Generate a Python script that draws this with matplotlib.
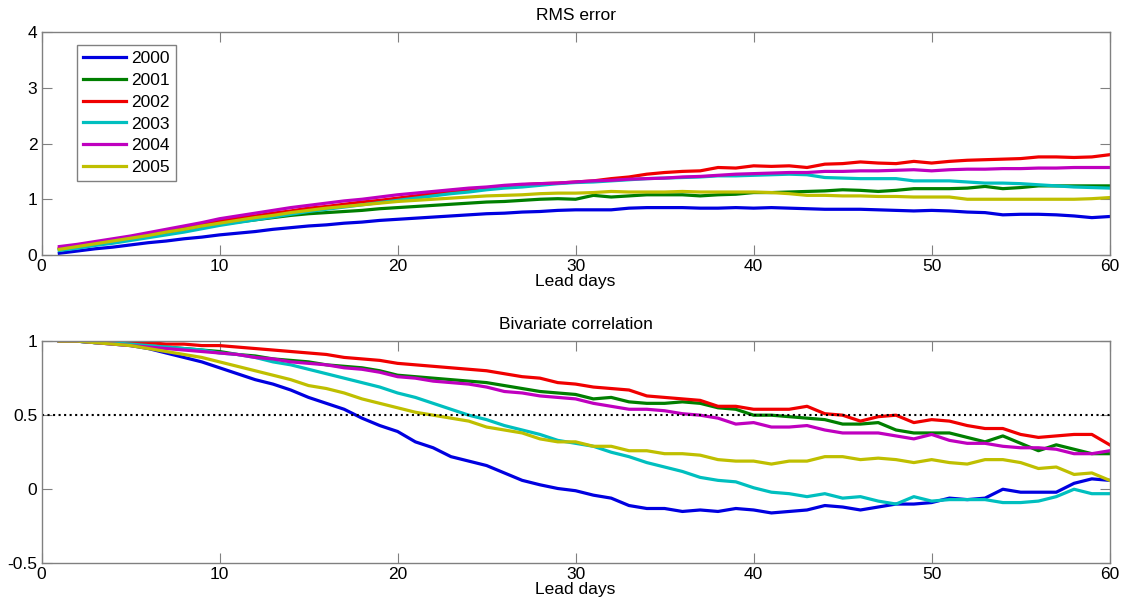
import matplotlib.pyplot as plt
import numpy as np

plt.rcParams['font.family'] = ['Liberation Sans', 'DejaVu Sans']
plt.rcParams['font.size'] = 12.5
plt.rcParams['axes.unicode_minus'] = False

days = np.arange(1, 61)
years = ['2000', '2001', '2002', '2003', '2004', '2005']
colors = ['#0000e0', '#007f00', '#f00000', '#00bfbf', '#bf00bf', '#bfbf00']

# RMS error, one list per year (lead days 1..60)
rms_2000 = [0.03, 0.07, 0.11, 0.14, 0.18, 0.22, 0.25, 0.29, 0.32, 0.36,
            0.39, 0.42, 0.46, 0.49, 0.52, 0.54, 0.57, 0.59, 0.62, 0.64,
            0.66, 0.68, 0.70, 0.72, 0.74, 0.75, 0.77, 0.78, 0.80, 0.81,
            0.81, 0.81, 0.84, 0.85, 0.85, 0.85, 0.84, 0.84, 0.85, 0.84,
            0.85, 0.84, 0.83, 0.82, 0.82, 0.82, 0.81, 0.80, 0.79, 0.80,
            0.79, 0.77, 0.76, 0.72, 0.73, 0.73, 0.72, 0.70, 0.67, 0.69]
rms_2001 = [0.10, 0.15, 0.20, 0.25, 0.30, 0.35, 0.40, 0.45, 0.50, 0.55,
            0.59, 0.63, 0.67, 0.71, 0.74, 0.76, 0.78, 0.80, 0.83, 0.85,
            0.87, 0.89, 0.91, 0.93, 0.95, 0.96, 0.98, 1.00, 1.01, 1.00,
            1.07, 1.04, 1.06, 1.08, 1.08, 1.08, 1.06, 1.08, 1.09, 1.12,
            1.12, 1.13, 1.14, 1.15, 1.17, 1.16, 1.14, 1.16, 1.19, 1.19,
            1.19, 1.20, 1.23, 1.19, 1.21, 1.24, 1.24, 1.24, 1.24, 1.24]
rms_2002 = [0.12, 0.16, 0.21, 0.26, 0.31, 0.37, 0.43, 0.49, 0.55, 0.61,
            0.66, 0.70, 0.75, 0.79, 0.84, 0.87, 0.91, 0.95, 0.98, 1.02,
            1.06, 1.10, 1.13, 1.17, 1.20, 1.23, 1.26, 1.28, 1.29, 1.31,
            1.33, 1.37, 1.40, 1.45, 1.48, 1.50, 1.51, 1.57, 1.56, 1.60,
            1.59, 1.60, 1.57, 1.63, 1.64, 1.67, 1.65, 1.64, 1.68, 1.65,
            1.68, 1.70, 1.71, 1.72, 1.73, 1.76, 1.76, 1.75, 1.76, 1.80]
rms_2003 = [0.08, 0.12, 0.17, 0.21, 0.26, 0.31, 0.36, 0.41, 0.47, 0.53,
            0.58, 0.63, 0.68, 0.73, 0.78, 0.82, 0.86, 0.90, 0.94, 0.98,
            1.02, 1.06, 1.10, 1.13, 1.17, 1.20, 1.22, 1.25, 1.28, 1.30,
            1.31, 1.33, 1.35, 1.37, 1.38, 1.39, 1.40, 1.42, 1.42, 1.43,
            1.44, 1.45, 1.44, 1.39, 1.38, 1.37, 1.37, 1.37, 1.33, 1.33,
            1.33, 1.31, 1.29, 1.29, 1.28, 1.26, 1.24, 1.22, 1.21, 1.20]
rms_2004 = [0.15, 0.19, 0.24, 0.29, 0.34, 0.40, 0.46, 0.52, 0.58, 0.65,
            0.70, 0.75, 0.80, 0.85, 0.89, 0.93, 0.97, 1.00, 1.04, 1.08,
            1.11, 1.14, 1.17, 1.20, 1.22, 1.25, 1.27, 1.28, 1.29, 1.31,
            1.33, 1.34, 1.36, 1.37, 1.38, 1.40, 1.41, 1.43, 1.45, 1.46,
            1.47, 1.48, 1.48, 1.50, 1.50, 1.51, 1.51, 1.52, 1.53, 1.51,
            1.53, 1.54, 1.54, 1.55, 1.55, 1.56, 1.56, 1.57, 1.57, 1.57]
rms_2005 = [0.10, 0.15, 0.20, 0.25, 0.30, 0.35, 0.41, 0.46, 0.52, 0.57,
            0.62, 0.67, 0.71, 0.76, 0.80, 0.84, 0.87, 0.90, 0.93, 0.96,
            0.98, 1.00, 1.02, 1.04, 1.06, 1.07, 1.08, 1.10, 1.11, 1.11,
            1.12, 1.14, 1.13, 1.13, 1.13, 1.14, 1.13, 1.13, 1.13, 1.13,
            1.12, 1.10, 1.07, 1.07, 1.06, 1.06, 1.05, 1.05, 1.04, 1.04,
            1.04, 1.00, 1.00, 1.00, 1.00, 1.00, 1.00, 1.00, 1.01, 1.03]

# bivariate correlation
cor_2000 = [1.00, 1.00, 0.99, 0.98, 0.97, 0.95, 0.92, 0.89, 0.86, 0.82,
            0.78, 0.74, 0.71, 0.67, 0.62, 0.58, 0.54, 0.48, 0.43, 0.39,
            0.32, 0.28, 0.22, 0.19, 0.16, 0.11, 0.06, 0.03, 0.005, -0.01,
            -0.04, -0.06, -0.11, -0.13, -0.13, -0.15, -0.14, -0.15, -0.13, -0.14,
            -0.16, -0.15, -0.14, -0.11, -0.12, -0.14, -0.12, -0.10, -0.10, -0.09,
            -0.06, -0.07, -0.06, 0.00, -0.02, -0.02, -0.02, 0.04, 0.07, 0.06]
cor_2001 = [1.00, 1.00, 0.99, 0.99, 0.98, 0.97, 0.96, 0.95, 0.94, 0.93,
            0.91, 0.90, 0.88, 0.87, 0.86, 0.84, 0.83, 0.82, 0.80, 0.77,
            0.76, 0.75, 0.74, 0.73, 0.72, 0.70, 0.68, 0.66, 0.65, 0.64,
            0.61, 0.62, 0.59, 0.58, 0.58, 0.59, 0.58, 0.55, 0.54, 0.50,
            0.50, 0.49, 0.48, 0.47, 0.44, 0.44, 0.45, 0.40, 0.38, 0.38,
            0.38, 0.35, 0.32, 0.36, 0.31, 0.26, 0.30, 0.27, 0.24, 0.24]
cor_2002 = [1.00, 1.00, 1.00, 1.00, 0.99, 0.99, 0.98, 0.98, 0.97, 0.97,
            0.96, 0.95, 0.94, 0.93, 0.92, 0.91, 0.89, 0.88, 0.87, 0.85,
            0.84, 0.83, 0.82, 0.81, 0.80, 0.78, 0.76, 0.75, 0.72, 0.71,
            0.69, 0.68, 0.67, 0.63, 0.62, 0.61, 0.60, 0.56, 0.56, 0.54,
            0.54, 0.54, 0.56, 0.51, 0.50, 0.46, 0.49, 0.50, 0.45, 0.47,
            0.46, 0.43, 0.41, 0.41, 0.37, 0.35, 0.36, 0.37, 0.37, 0.30]
cor_2003 = [1.00, 1.00, 0.99, 0.99, 0.98, 0.97, 0.96, 0.95, 0.94, 0.92,
            0.91, 0.89, 0.86, 0.84, 0.81, 0.78, 0.75, 0.72, 0.69, 0.65,
            0.62, 0.58, 0.54, 0.50, 0.47, 0.43, 0.40, 0.37, 0.33, 0.31,
            0.29, 0.25, 0.22, 0.18, 0.15, 0.12, 0.08, 0.06, 0.05, 0.01,
            -0.02, -0.03, -0.05, -0.03, -0.06, -0.05, -0.08, -0.10, -0.05, -0.08,
            -0.07, -0.07, -0.07, -0.09, -0.09, -0.08, -0.05, 0.00, -0.03, -0.03]
cor_2004 = [1.00, 1.00, 0.99, 0.98, 0.97, 0.96, 0.95, 0.94, 0.93, 0.92,
            0.91, 0.89, 0.88, 0.86, 0.85, 0.84, 0.82, 0.81, 0.79, 0.76,
            0.75, 0.73, 0.72, 0.71, 0.69, 0.66, 0.65, 0.63, 0.62, 0.61,
            0.58, 0.56, 0.54, 0.54, 0.53, 0.51, 0.50, 0.48, 0.44, 0.45,
            0.42, 0.42, 0.43, 0.40, 0.38, 0.38, 0.38, 0.36, 0.34, 0.37,
            0.33, 0.31, 0.31, 0.29, 0.28, 0.28, 0.27, 0.24, 0.24, 0.26]
cor_2005 = [1.00, 1.00, 0.99, 0.98, 0.97, 0.95, 0.93, 0.91, 0.89, 0.86,
            0.83, 0.80, 0.77, 0.74, 0.70, 0.68, 0.65, 0.61, 0.58, 0.55,
            0.52, 0.50, 0.48, 0.46, 0.42, 0.40, 0.38, 0.34, 0.32, 0.32,
            0.29, 0.29, 0.26, 0.26, 0.24, 0.24, 0.23, 0.20, 0.19, 0.19,
            0.17, 0.19, 0.19, 0.22, 0.22, 0.20, 0.21, 0.20, 0.18, 0.20,
            0.18, 0.17, 0.20, 0.20, 0.18, 0.14, 0.15, 0.10, 0.11, 0.06]

rms_all = [rms_2000, rms_2001, rms_2002, rms_2003, rms_2004, rms_2005]
cor_all = [cor_2000, cor_2001, cor_2002, cor_2003, cor_2004, cor_2005]
ref_level = 0.5

edge = '#808080'


def style_axis(ax):
    for s in ax.spines.values():
        s.set_color(edge)
        s.set_linewidth(1.0)
    ax.tick_params(direction='in', length=7, color=edge, top=True, right=True,
                   labelsize=12.5, pad=3)
    ax.set_xlim(0, 60)
    ax.set_xticks(range(0, 61, 10))
    ax.set_xlabel('Lead days', fontsize=12.5, labelpad=0)


fig = plt.figure(figsize=(11.22, 6.07), dpi=100)
ax1 = fig.add_axes([0.037, 0.58, 0.952, 0.367])
ax2 = fig.add_axes([0.037, 0.072, 0.952, 0.366])

for yr, c, vals in zip(years, colors, rms_all):
    ax1.plot(days, vals, color=c, linewidth=2.3, label=yr)
ax1.set_ylim(0, 4)
ax1.set_yticks([0, 1, 2, 3, 4])
ax1.set_title('RMS error', fontsize=12.5, pad=9)
style_axis(ax1)
leg = ax1.legend(loc='upper left', bbox_to_anchor=(0.033, 0.942), fontsize=12.5,
                 handlelength=2.5, handletextpad=0.3, labelspacing=0.38,
                 borderpad=0.35, borderaxespad=0, fancybox=False, framealpha=1)
leg.get_frame().set_edgecolor(edge)

for yr, c, vals in zip(years, colors, cor_all):
    ax2.plot(days, vals, color=c, linewidth=2.3, label=yr)
ax2.axhline(ref_level, color='k', linestyle=':', linewidth=1.5)
ax2.set_ylim(-0.5, 1)
ax2.set_yticks([-0.5, 0, 0.5, 1])
ax2.set_yticklabels(['-0.5', '0', '0.5', '1'])
ax2.set_title('Bivariate correlation', fontsize=12.5, pad=9)
style_axis(ax2)

fig.savefig('out.png', dpi=100)
